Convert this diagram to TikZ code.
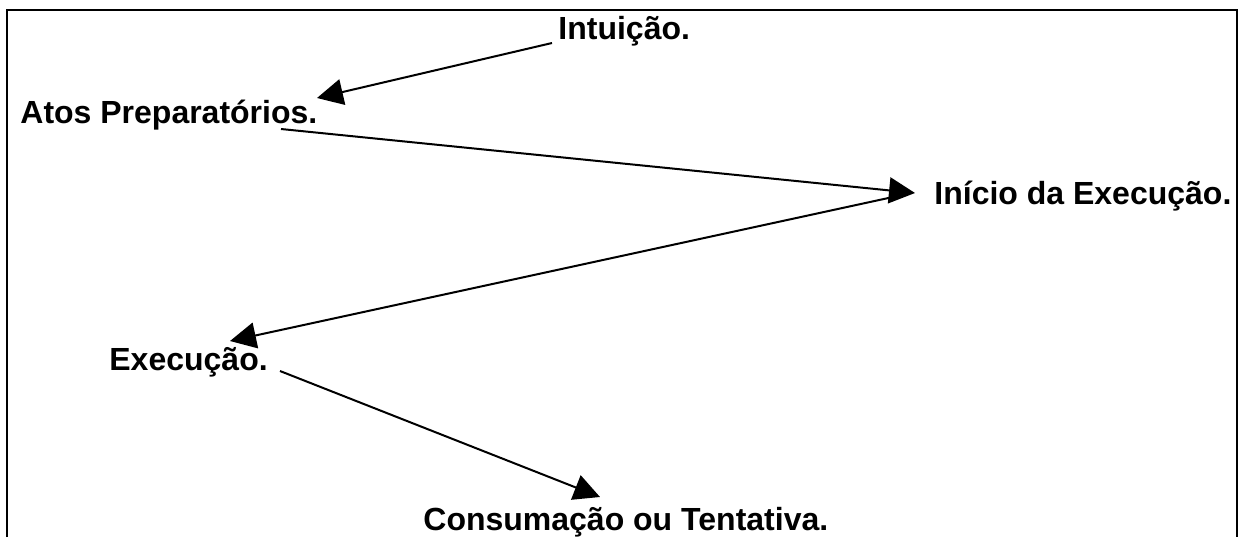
\documentclass[tikz,border=0pt]{standalone}
\usepackage{fontspec}
\setmainfont{Liberation Sans}
\usetikzlibrary{arrows.meta}
\begin{document}
\begin{tikzpicture}[x=0.5pt,y=-0.5pt,
  lbl/.style={anchor=base west,inner sep=0pt,font=\fontsize{16}{19}\selectfont\bfseries},
  conn/.style={line width=1pt,-{Triangle[length=13pt,width=13pt]}},
  framestyle/.style={line width=1pt}]
\useasboundingbox (0,0) rectangle (1242,537);
\draw[framestyle] (7,537) -- (7,9.5) -- (1237,9.5) -- (1237,537);
\node[lbl] (intu) at (558,39) {Intuição.};
\node[lbl] (atos) at (20,123) {Atos Preparatórios.};
\node[lbl] (inic) at (934,204) {Início da Execução.};
\node[lbl] (exec) at (109,370) {Execução.};
\node[lbl] (cons) at (423,530) {Consumação ou Tentativa.};
\coordinate (intuout) at (552,43);
\coordinate (atosin) at (317,98);
\coordinate (atosout) at (281,129);
\coordinate (inicin) at (915,193);
\coordinate (inicout) at (893,197);
\coordinate (execin) at (230,341);
\coordinate (execout) at (280,371);
\coordinate (consin) at (600,497);
\draw[conn] (intuout) -- (atosin);
\draw[conn] (atosout) -- (inicin);
\draw[conn] (inicout) -- (execin);
\draw[conn] (execout) -- (consin);
\end{tikzpicture}
\end{document}
